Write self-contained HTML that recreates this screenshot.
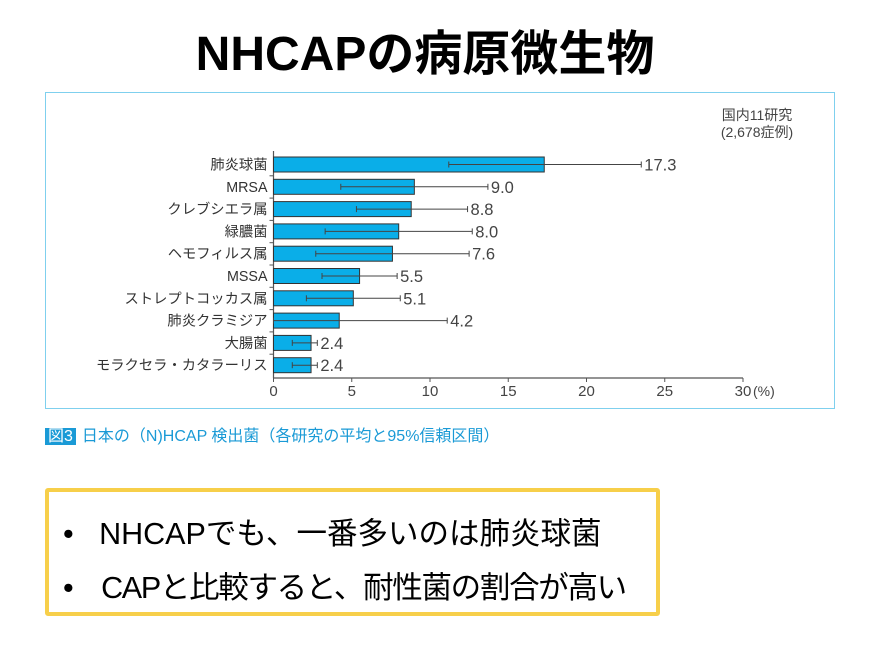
<!DOCTYPE html>
<html><head><meta charset="utf-8">
<style>
body{margin:0;width:877px;height:660px;background:#fff;font-family:"Liberation Sans","Noto Sans CJK JP",sans-serif;position:relative;overflow:hidden}
.title{position:absolute;left:0;width:850px;top:14px;text-align:center;font-size:48px;font-weight:bold;color:#000}
.box{position:absolute;left:45px;top:92px;width:790px;height:317px;border:1.5px solid #7fd0ee;box-sizing:border-box}
.cap{position:absolute;left:45px;top:422px;font-size:16px;color:#1a9ad6}
.cap span{background:#1a9ad6;color:#fff;padding:0 3px;margin-right:6px}
.yb{position:absolute;left:45px;top:488px;width:615px;height:128px;border:4px solid #f7cf4a;border-radius:3px;box-sizing:border-box}
.yb div{position:absolute;left:14px;font-size:30.5px;color:#000;white-space:nowrap}
</style></head><body>
<div class="title">NHCAPの病原微生物</div>
<div class="box"></div>
<svg id="chart" width="877" height="660" style="position:absolute;left:0;top:0" font-family="Liberation Sans, Noto Sans CJK JP, sans-serif"></svg>
<div class="cap"><span>図3</span>日本の（N)HCAP 検出菌（各研究の平均と95%信頼区間）</div>
<div class="yb">
<div style="top:17px">•&nbsp;&nbsp;&nbsp;NHCAPでも、一番多いのは肺炎球菌</div>
<div style="top:71px;letter-spacing:-1.3px">•&nbsp;&nbsp;&nbsp;&nbsp;CAPと比較すると、耐性菌の割合が高い</div>
</div>
<script>
const categories=["肺炎球菌","MRSA","クレブシエラ属","緑膿菌","ヘモフィルス属","MSSA","ストレプトコッカス属","肺炎クラミジア","大腸菌","モラクセラ・カタラーリス"];
const values=[17.3,9.0,8.8,8.0,7.6,5.5,5.1,4.2,2.4,2.4];
const ciLow=[11.2,4.3,5.3,3.3,2.7,3.1,2.1,0,1.2,1.2];
const ciHigh=[23.5,13.7,12.4,12.7,12.5,7.9,8.1,11.1,2.8,2.8];
const ticks=[0,5,10,15,20,25,30];
const tickLabels=["0","5","10","15","20","25","30"];
const svg=document.getElementById('chart');const NS="http://www.w3.org/2000/svg";
const x0=273.5,ppu=15.65,y0=157,step=22.3,bh=15,axisY=378;
const X=v=>x0+v*ppu;
function mk(t,a,txt){const e=document.createElementNS(NS,t);for(const k in a)e.setAttribute(k,a[k]);if(txt!=null)e.textContent=txt;svg.appendChild(e);return e;}
let ax=mk('line',{x1:x0,x2:X(30),y1:axisY,y2:axisY,stroke:'#555','stroke-width':1.2});

let ay=mk('line',{x1:x0,x2:x0,y1:y0-6,y2:axisY,stroke:'#555','stroke-width':1.2});

ticks.forEach((t,i)=>{
 mk('line',{x1:X(t),x2:X(t),y1:axisY,y2:axisY+4,stroke:'#555'});
 let l=mk('text',{x:X(t),y:axisY+18,'text-anchor':'middle','font-size':15,fill:'#444'},tickLabels[i]);
 
});
let u=mk('text',{x:X(30)+10,y:axisY+18,'font-size':14,fill:'#444'},"(%)");

categories.forEach((c,i)=>{
 const y=y0+i*step;
 if(i>0) mk('line',{x1:x0-4,x2:x0,y1:y-3.5,y2:y-3.5,stroke:'#555'});
 let cl=mk('text',{x:x0-6,y:y+bh/2+5,'text-anchor':'end','font-size':14.3,fill:'#333'},c);
 
 let b=mk('rect',{x:x0,y:y,width:X(values[i])-x0,height:bh,fill:'#0aaee8',stroke:'#333','stroke-width':1});
 
 const cy=y+bh/2;
 let e=mk('line',{x1:X(ciLow[i]),x2:X(ciHigh[i]),y1:cy,y2:cy,stroke:'#444','stroke-width':1});
 
 mk('line',{x1:X(ciLow[i]),x2:X(ciLow[i]),y1:cy-3,y2:cy+3,stroke:'#444'});
 mk('line',{x1:X(ciHigh[i]),x2:X(ciHigh[i]),y1:cy-3,y2:cy+3,stroke:'#444'});
 let v=mk('text',{x:Math.max(X(ciHigh[i]),X(values[i]))+3,y:cy+6,'font-size':16.5,fill:'#444'},values[i].toFixed(1));
 
});
let n1=mk('text',{x:757,y:120,'text-anchor':'middle','font-size':14,fill:'#444'},"国内11研究");

let n2=mk('text',{x:757,y:137,'text-anchor':'middle','font-size':14,fill:'#444'},"(2,678症例)");

</script>
</body></html>
